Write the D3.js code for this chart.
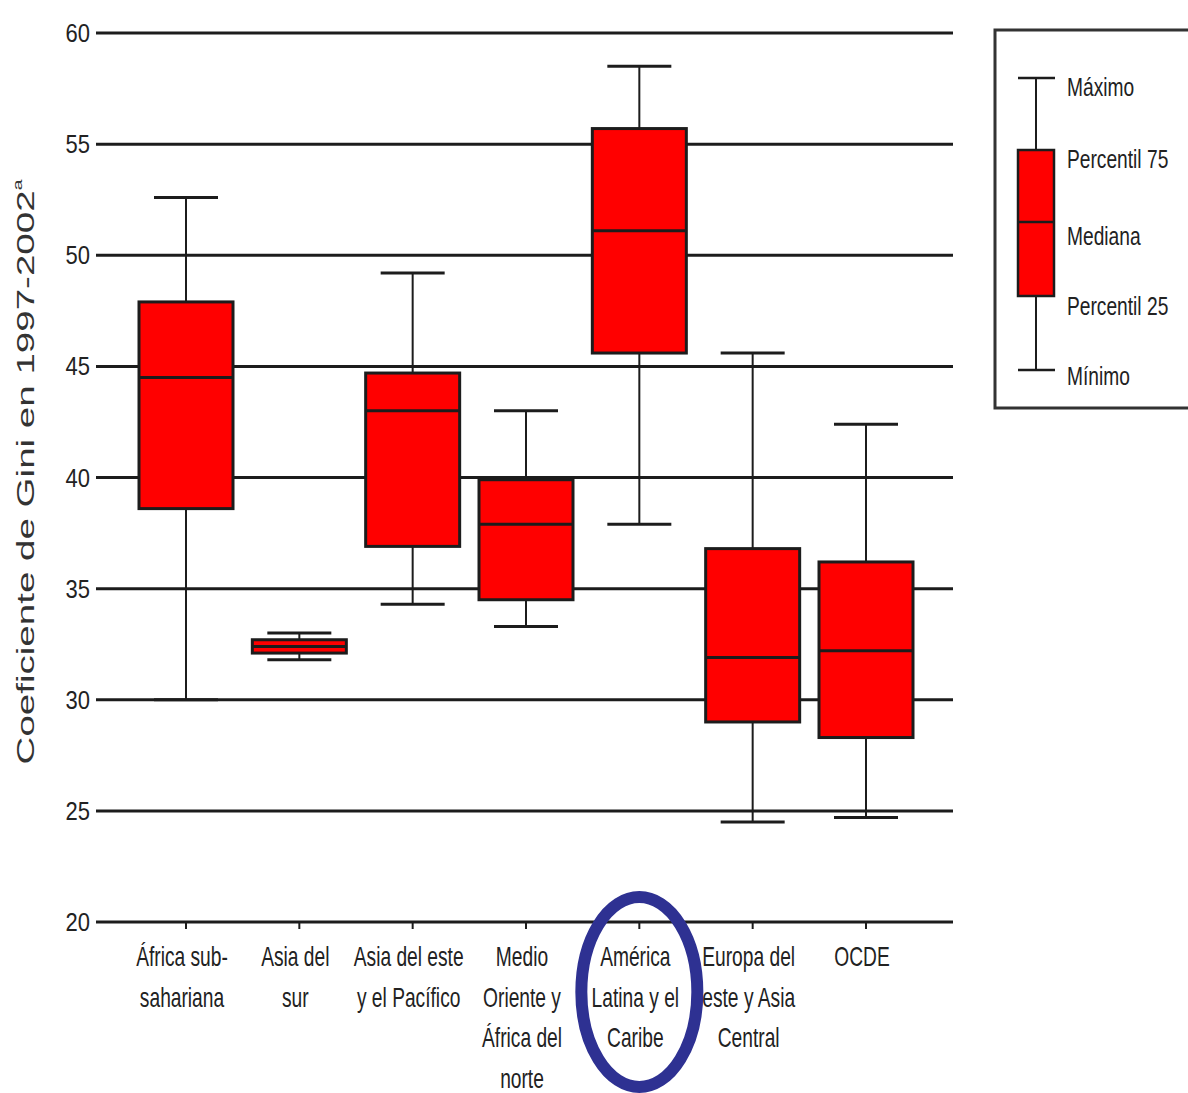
<!DOCTYPE html>
<html><head><meta charset="utf-8">
<script src="https://cdn.jsdelivr.net/npm/d3@7"></script>
<style>
html,body{margin:0;padding:0;background:#fff;}
svg{display:block;}
</style></head>
<body>
<svg id="chart" width="1188" height="1093"></svg>
<script>
// ---- data ----
const categories = ["África sub-sahariana","Asia del sur","Asia del este y el Pacífico","Medio Oriente y África del norte","América Latina y el Caribe","Europa del este y Asia Central","OCDE"];
const categoryLines = [
  ["África sub-","sahariana"],
  ["Asia del","sur"],
  ["Asia del este","y el Pacífico"],
  ["Medio","Oriente y","África del","norte"],
  ["América","Latina y el","Caribe"],
  ["Europa del","este y Asia","Central"],
  ["OCDE"]
];
const minimo    = [30.0, 31.8, 34.3, 33.3, 37.9, 24.5, 24.7];
const p25       = [38.6, 32.1, 36.9, 34.5, 45.6, 29.0, 28.3];
const mediana   = [44.5, 32.4, 43.0, 37.9, 51.1, 31.9, 32.2];
const p75       = [47.9, 32.7, 44.7, 39.9, 55.7, 36.8, 36.2];
const maximo    = [52.6, 33.0, 49.2, 43.0, 58.5, 45.6, 42.4];
const yTicks    = [20, 25, 30, 35, 40, 45, 50, 55, 60];
const legendLabels = ["Máximo","Percentil 75","Mediana","Percentil 25","Mínimo"];
const yTitle = "Coeficiente de Gini en 1997-2002";
const yTitleSup = "a";
const highlighted = "América Latina y el Caribe";

const data = categories.map((c,i)=>({cat:c, lines:categoryLines[i], min:minimo[i], q1:p25[i], med:mediana[i], q3:p75[i], max:maximo[i]}));

const svg = d3.select("#chart");
const INK = "#1c1c1c";
const RED = "#ff0000";
const SANS = "'Liberation Sans',Arial,Helvetica,sans-serif";

const y = d3.scaleLinear().domain([20,60]).range([922,33]);
const x = d3.scalePoint().domain(categories).range([186,866]);
const boxW = 94, capW = 64;

// gridlines
svg.append("g").selectAll("line").data(yTicks).join("line")
  .attr("x1",96).attr("x2",953)
  .attr("y1",d=>y(d)).attr("y2",d=>y(d))
  .attr("stroke",INK).attr("stroke-width",3);

// y tick labels
svg.append("g").selectAll("g").data(yTicks).join("g")
  .attr("transform",d=>`translate(90,${y(d)+9}) scale(0.88,1.02)`)
  .append("text")
  .attr("text-anchor","end")
  .attr("font-family",SANS).attr("font-size",25).attr("fill","#222")
  .text(d=>d);

// x ticks (small marks on bottom line)
svg.append("g").selectAll("line").data(categories).join("line")
  .attr("x1",d=>x(d)).attr("x2",d=>x(d))
  .attr("y1",y(20)).attr("y2",y(20)+7)
  .attr("stroke",INK).attr("stroke-width",2);

// boxes
const bx = svg.append("g").selectAll("g").data(data).join("g");
bx.append("line").attr("x1",d=>x(d.cat)).attr("x2",d=>x(d.cat))
  .attr("y1",d=>y(d.max)).attr("y2",d=>y(d.min))
  .attr("stroke",INK).attr("stroke-width",2);
bx.append("line").attr("x1",d=>x(d.cat)-capW/2).attr("x2",d=>x(d.cat)+capW/2)
  .attr("y1",d=>y(d.max)).attr("y2",d=>y(d.max))
  .attr("stroke",INK).attr("stroke-width",3);
bx.append("line").attr("x1",d=>x(d.cat)-capW/2).attr("x2",d=>x(d.cat)+capW/2)
  .attr("y1",d=>y(d.min)).attr("y2",d=>y(d.min))
  .attr("stroke",INK).attr("stroke-width",3);
bx.append("rect").attr("x",d=>x(d.cat)-boxW/2).attr("width",boxW)
  .attr("y",d=>y(d.q3)).attr("height",d=>y(d.q1)-y(d.q3))
  .attr("fill",RED).attr("stroke",INK).attr("stroke-width",3);
bx.append("line").attr("x1",d=>x(d.cat)-boxW/2).attr("x2",d=>x(d.cat)+boxW/2)
  .attr("y1",d=>y(d.med)).attr("y2",d=>y(d.med))
  .attr("stroke",INK).attr("stroke-width",3);

// category labels
const lab = svg.append("g").selectAll("g").data(data).join("g");
lab.each(function(d){
  const g = d3.select(this);
  d.lines.forEach((ln,j)=>{
    g.append("g").attr("transform",`translate(${x(d.cat)-4},${966+j*40.5}) scale(0.8,1.12)`)
      .append("text").attr("text-anchor","middle")
      .attr("font-family",SANS).attr("font-size",24).attr("fill","#222")
      .text(ln);
  });
});

// y-axis title
const tg = svg.append("g").attr("transform","translate(34,472) rotate(-90)");
const tt = tg.append("text").attr("text-anchor","middle")
  .attr("font-family",SANS).attr("font-size",24).attr("fill","#333");
tt.append("tspan").text(yTitle);
tt.append("tspan").attr("font-size",12).attr("dy",-12).text(yTitleSup);
const len = tt.node().getComputedTextLength();
tt.attr("transform",`scale(${585/len},1)`);

// legend
const lg = svg.append("g");
lg.append("rect").attr("x",995).attr("y",30).attr("width",220).attr("height",378)
  .attr("fill","#fff").attr("stroke","#333").attr("stroke-width",3);
const ly = d3.scaleOrdinal().domain(legendLabels).range([78,150,222,296,370]);
const lcx = 1036;
lg.append("line").attr("x1",lcx).attr("x2",lcx).attr("y1",ly("Máximo")).attr("y2",ly("Mínimo"))
  .attr("stroke",INK).attr("stroke-width",2);
["Máximo","Mínimo"].forEach(k=>{
  lg.append("line").attr("x1",lcx-18).attr("x2",lcx+19).attr("y1",ly(k)).attr("y2",ly(k))
    .attr("stroke",INK).attr("stroke-width",2.5);
});
lg.append("rect").attr("x",lcx-18).attr("width",36).attr("y",ly("Percentil 75"))
  .attr("height",ly("Percentil 25")-ly("Percentil 75"))
  .attr("fill",RED).attr("stroke",INK).attr("stroke-width",2.5);
lg.append("line").attr("x1",lcx-18).attr("x2",lcx+18).attr("y1",ly("Mediana")).attr("y2",ly("Mediana"))
  .attr("stroke",INK).attr("stroke-width",2.5);
const labOffsets = [10,10,15,11,7];
legendLabels.forEach((t,i)=>{
  lg.append("g").attr("transform",`translate(1067,${ly(t)+labOffsets[i]+8}) scale(0.8,1.06)`)
    .append("text").attr("font-family",SANS).attr("font-size",24).attr("fill","#222").text(t);
});

// highlight ellipse
svg.append("ellipse").attr("cx",x(highlighted)).attr("cy",992)
  .attr("rx",58).attr("ry",95)
  .attr("fill","none").attr("stroke","#2e3192").attr("stroke-width",12);
</script>
</body></html>
